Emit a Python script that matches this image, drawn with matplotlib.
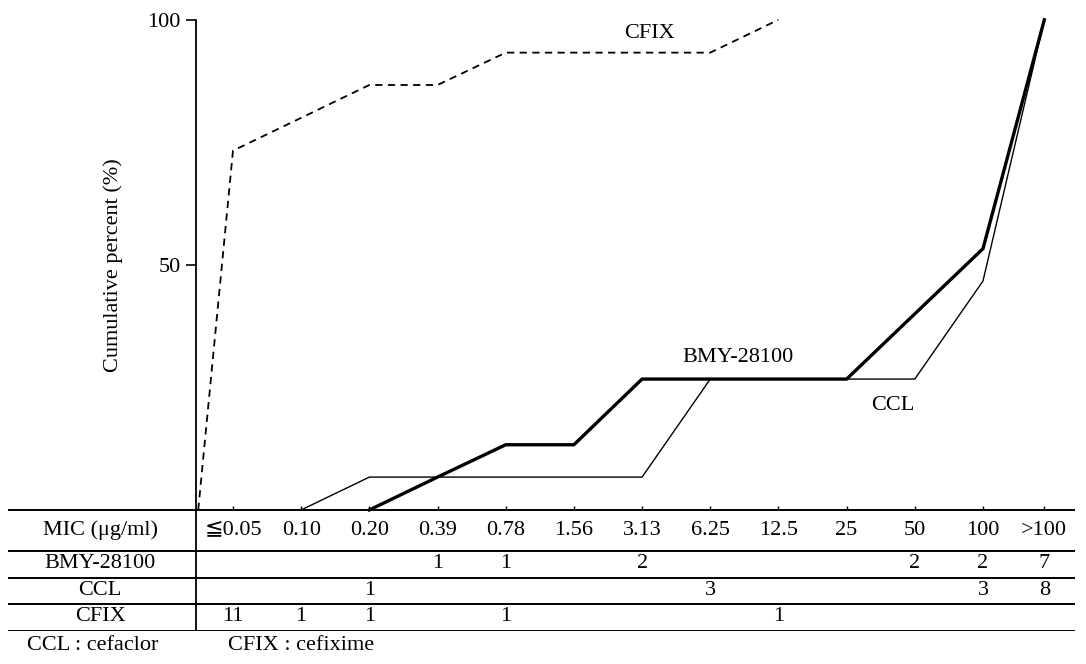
import numpy as np
import matplotlib
matplotlib.use("Agg")
import matplotlib.pyplot as plt

plt.rcParams['font.family'] = ['Liberation Serif', 'DejaVu Serif', 'DejaVu Sans']
FS = 16

# MIC categories (ug/ml)
mic_labels = ['≦0.05', '0.10', '0.20', '0.39', '0.78', '1.56', '3.13',
              '6.25', '12.5', '25', '50', '100', '>100']

# number of strains per MIC (table rows), '' = blank cell
bmy_counts = ['', '', '', '1', '1', '', '2', '', '', '', '2', '2', '7']
ccl_counts = ['', '', '1', '', '', '', '', '3', '', '', '', '3', '8']
cfix_counts = ['11', '1', '1', '', '1', '', '', '', '1', '', '', '', '']

# cumulative percent curves
bmy_idx = [2, 3, 4, 5, 6, 7, 8, 9, 10, 11, 12]
bmy_cum = [0, 6.7, 13.3, 13.3, 26.7, 26.7, 26.7, 26.7, 40.0, 53.3, 100]
ccl_idx = [1, 2, 3, 4, 5, 6, 7, 8, 9, 10, 11, 12]
ccl_cum = [0, 6.7, 6.7, 6.7, 6.7, 6.7, 26.7, 26.7, 26.7, 26.7, 46.7, 100]
cfix_idx = [0, 1, 2, 3, 4, 5, 6, 7, 8]
cfix_cum = [73.3, 80.0, 86.7, 86.7, 93.3, 93.3, 93.3, 93.3, 100]

xpos = np.arange(len(mic_labels), dtype=float)
xpos[-1] = 11.9
yax = -0.54   # where the y axis sits

fig = plt.figure(figsize=(10.86, 6.64), dpi=100)
ax = fig.add_axes([8/1086, 33/664, 1067/1086, 621/664])
ax.set_xlim(-3.30, 12.35)
ax.set_ylim(-24.7, 102.0)

# curves
ax.plot(xpos[bmy_idx], bmy_cum, color='black', lw=2.4, solid_joinstyle='miter')
ax.plot(xpos[ccl_idx], ccl_cum, color='black', lw=1.0)
ax.plot([yax + 0.03] + list(xpos[cfix_idx]), [0] + cfix_cum, color='black',
        lw=1.3, linestyle=(0, (4, 3)))

ax.text(6.11, 97.3, 'CFIX', ha='center', va='center', fontsize=FS)
ax.text(7.40, 31.0, 'BMY-28100', ha='center', va='center', fontsize=FS)
ax.text(9.68, 21.4, 'CCL', ha='center', va='center', fontsize=FS)

# axes styling
for s in ['top', 'right', 'bottom']:
    ax.spines[s].set_visible(False)
ax.spines['left'].set_position(('data', yax))
ax.spines['left'].set_bounds(0, 100)
ax.spines['left'].set_linewidth(1.3)
ax.set_yticks([50, 100])
ax.set_yticklabels(['50', '100'], fontsize=FS)
ax.tick_params(axis='y', direction='out', length=7, width=1.2, pad=4)
ax.set_xticks([])
ax.text(-1.76, 50, 'Cumulative percent (%)', rotation=90, ha='center',
        va='center', fontsize=FS)

# table
xl, xr = -3.30, 12.35
row_lines = [0, -8.37, -13.88, -19.18, -24.6]
ax.hlines(row_lines, xl, xr, color='black', lw=1.4)
ax.vlines(yax, -24.6, 0, color='black', lw=1.3)
ax.vlines(xpos, 0, 0.9, color='black', lw=1.0)

rows = [('MIC (μg/ml)', mic_labels, -4.1),
        ('BMY-28100', bmy_counts, -11.0),
        ('CCL', ccl_counts, -16.5),
        ('CFIX', cfix_counts, -21.8)]
for name, cells, yc in rows:
    ax.text(-1.95, yc, name, ha='center', va='center', fontsize=FS)
    for x, c in zip(xpos, cells):
        if c:
            ax.text(x, yc, c, ha='center', va='center', fontsize=FS)

fig.text(27/1086, 1 - 646/664, 'CCL : cefaclor', ha='left', va='center', fontsize=FS)
fig.text(228/1086, 1 - 646/664, 'CFIX : cefixime', ha='left', va='center', fontsize=FS)

fig.savefig('out.png', dpi=100)
